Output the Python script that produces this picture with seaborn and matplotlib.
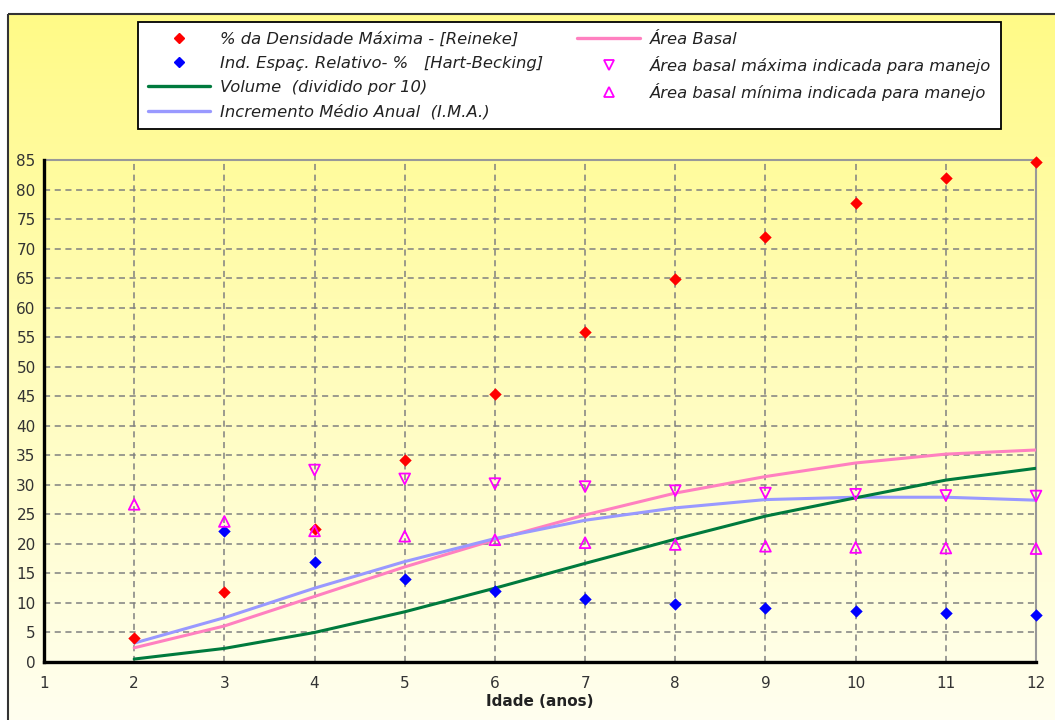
import numpy as np
import pandas as pd
import matplotlib
matplotlib.use("Agg")
import matplotlib.pyplot as plt
from matplotlib.lines import Line2D
from matplotlib.patches import Rectangle
from matplotlib.ticker import MultipleLocator
import seaborn as sns

# ---------------- data ----------------
idade = [2, 3, 4, 5, 6, 7, 8, 9, 10, 11, 12]
idade_dens = [2, 3, 4, 5, 6, 7, 8, 9, 10, 11, 12]
dens_max_reineke = [4.0, 11.8, 22.5, 34.2, 45.4, 55.8, 64.8, 72.0, 77.8, 82.0, 84.6]
idade_hart = [3, 4, 5, 6, 7, 8, 9, 10, 11, 12]
hart_becking = [22.2, 16.9, 14.0, 12.0, 10.6, 9.8, 9.1, 8.6, 8.3, 8.0]
volume_div10 = [0.5, 2.3, 5.0, 8.5, 12.5, 16.7, 20.8, 24.7, 27.8, 30.8, 32.8]
ima = [3.2, 7.5, 12.5, 17.0, 20.9, 24.0, 26.1, 27.5, 27.9, 27.9, 27.4]
area_basal = [2.4, 6.1, 11.1, 16.1, 20.7, 24.9, 28.6, 31.4, 33.7, 35.2, 35.9]
idade_ab_max = [4, 5, 6, 7, 8, 9, 10, 11, 12]
ab_max = [32.5, 31.0, 30.2, 29.7, 29.0, 28.6, 28.4, 28.2, 28.1]
ab_min = [26.7, 23.8, 22.2, 21.3, 20.7, 20.2, 19.9, 19.6, 19.4, 19.3, 19.2]

labels = {
    "dens": "% da Densidade Máxima - [Reineke]",
    "hart": "Ind. Espaç. Relativo- %   [Hart-Becking]",
    "vol": "Volume  (dividido por 10)",
    "ima": "Incremento Médio Anual  (I.M.A.)",
    "ab": "Área Basal",
    "abmax": "Área basal máxima indicada para manejo",
    "abmin": "Área basal mínima indicada para manejo",
}

sns.set_style("white")
plt.rcParams["font.family"] = ["DejaVu Sans"]

W, H = 1055, 720
fig = plt.figure(figsize=(W / 100, H / 100), dpi=100)
fig.patch.set_facecolor("white")

# background gradient frame
bg = fig.add_axes([0, 0, 1, 1], zorder=-10)
bg.set_xlim(0, W)
bg.set_ylim(H, 0)
bg.axis("off")
top_c = np.array([255, 250, 135]) / 255
bot_c = np.array([255, 255, 240]) / 255
t = np.linspace(0, 1, 256)[:, None]
grad = (top_c[None, :] * (1 - t) + bot_c[None, :] * t)[:, None, :]
bg.imshow(grad, extent=[8, W + 5, H + 5, 14], aspect="auto", zorder=0)
bg.add_patch(Rectangle((8, 14), W, H, fill=False, edgecolor="#333333", lw=1.5, zorder=1))

ax = fig.add_axes([44 / W, 1 - 662 / H, (1036 - 44) / W, (662 - 160) / H])
ax.patch.set_alpha(0)

c_red = "#FF0000"
c_blue = "#0000FF"
c_green = "#007A3D"
c_lav = "#9999FF"
c_pink = "#FF80C0"
c_mag = "#FF00FF"

df_lines = pd.DataFrame({"idade": idade, "vol": volume_div10, "ima": ima, "ab": area_basal})
sns.lineplot(data=df_lines, x="idade", y="ab", ax=ax, color=c_pink, lw=2.2, zorder=3)
sns.lineplot(data=df_lines, x="idade", y="ima", ax=ax, color=c_lav, lw=2.2, zorder=3)
sns.lineplot(data=df_lines, x="idade", y="vol", ax=ax, color=c_green, lw=2.2, zorder=3)

sns.scatterplot(x=idade_dens, y=dens_max_reineke, ax=ax, marker="D", color=c_red,
                s=40, edgecolor=c_red, linewidth=0, zorder=5, clip_on=False)
sns.scatterplot(x=idade_hart, y=hart_becking, ax=ax, marker="D", color=c_blue,
                s=40, edgecolor=c_blue, linewidth=0, zorder=5, clip_on=False)
sns.scatterplot(x=idade_ab_max, y=ab_max, ax=ax, marker="v", facecolor="none",
                edgecolor=c_mag, s=60, linewidth=1.3, zorder=5, clip_on=False)
sns.scatterplot(x=idade, y=ab_min, ax=ax, marker="^", facecolor="none",
                edgecolor=c_mag, s=60, linewidth=1.3, zorder=5, clip_on=False)

ax.set_xlim(1, 12)
ax.set_ylim(0, 85)
ax.xaxis.set_major_locator(MultipleLocator(1))
ax.xaxis.set_minor_locator(MultipleLocator(1 / 3))
ax.yaxis.set_major_locator(MultipleLocator(5))
ax.yaxis.set_minor_locator(MultipleLocator(1))
ax.grid(True, which="major", color="#808080", linestyle=(0, (4, 3)), lw=1.1)
ax.set_axisbelow(True)
ax.tick_params(axis="both", which="major", labelsize=11, colors="#333333",
               length=4, width=1, direction="out")
ax.tick_params(axis="both", which="minor", length=2, width=0.8, color="#555555", direction="out")
for lab in ax.get_xticklabels() + ax.get_yticklabels():
    lab.set_color("#333333")
ax.tick_params(axis="x", pad=6)
ax.tick_params(axis="y", pad=2)

for s in ["left", "bottom"]:
    ax.spines[s].set_color("black")
    ax.spines[s].set_linewidth(2.4)
    ax.spines[s].set_zorder(6)
for s in ["top", "right"]:
    ax.spines[s].set_color("#999999")
    ax.spines[s].set_linewidth(1.5)

ax.set_xlabel("Idade (anos)", fontsize=11, fontweight="bold", color="#222222", labelpad=2)
ax.set_ylabel("")

handles = [
    Line2D([], [], ls="none", marker="D", color=c_red, markersize=5.5),
    Line2D([], [], ls="none", marker="D", color=c_blue, markersize=5.5),
    Line2D([], [], color=c_green, lw=2.4),
    Line2D([], [], color=c_lav, lw=2.4),
    Line2D([], [], color=c_pink, lw=2.4),
    Line2D([], [], ls="none", marker="v", markerfacecolor="none", markeredgecolor=c_mag,
           markersize=7, markeredgewidth=1.3),
    Line2D([], [], ls="none", marker="^", markerfacecolor="none", markeredgecolor=c_mag,
           markersize=7, markeredgewidth=1.3),
]
labs = [labels[k] for k in ["dens", "hart", "vol", "ima", "ab", "abmax", "abmin"]]
leg = fig.legend(handles, labs, ncol=2, loc="upper left",
                 bbox_to_anchor=(138 / W, 1 - 22 / H),
                 prop={"style": "italic", "size": 11.8},
                 frameon=True, fancybox=False, edgecolor="black", facecolor="white",
                 framealpha=1, handlelength=3.8, handletextpad=0.6, columnspacing=2.1,
                 labelspacing=0.55, borderpad=0.6, borderaxespad=0)
leg.get_frame().set_linewidth(1.3)
for txt in leg.get_texts():
    txt.set_color("#222222")

fig.savefig("out.png", dpi=100)
